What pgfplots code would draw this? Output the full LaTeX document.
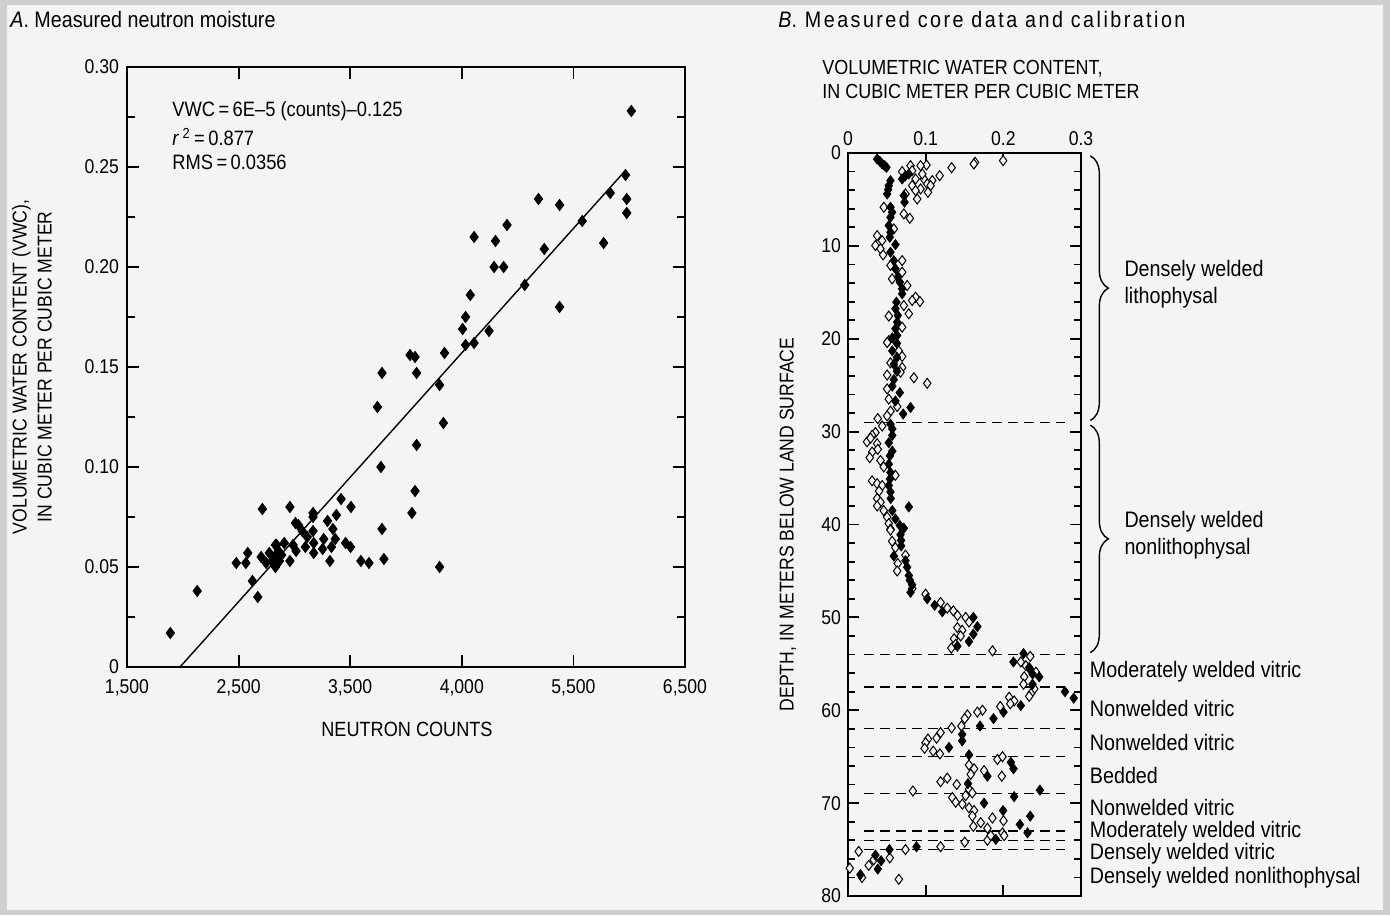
\documentclass[border=0pt]{standalone}
\usepackage{fontspec}
\setmainfont{Liberation Sans}[FakeStretch=0.88]
\newfontfamily\spacedfont{Liberation Sans}[FakeStretch=0.88, LetterSpace=11]
\usepackage{pgfplots}
\usepackage{pgfplotstable}
\pgfplotsset{compat=1.18}
\usetikzlibrary{decorations.pathreplacing}
\definecolor{bg}{HTML}{F3F5F4}
\definecolor{edge}{HTML}{CDD0CD}

\pgfplotstableread{
counts vwc
6019 0.278
5967 0.246
5830 0.237
5978 0.234
5978 0.227
5187 0.234
5376 0.231
5579 0.223
5771 0.212
5239 0.209
4905 0.221
4610 0.215
4802 0.213
4789 0.200
4875 0.200
5064 0.191
5376 0.180
4576 0.186
4534 0.175
4507 0.169
4744 0.168
4534 0.161
4610 0.162
4345 0.157
4036 0.156
4081 0.155
4095 0.147
3785 0.147
4301 0.141
3744 0.130
4335 0.122
4095 0.111
3775 0.100
4081 0.088
4053 0.077
3785 0.069
3802 0.054
4301 0.050
3668 0.052
3596 0.053
3507 0.080
3418 0.084
3376 0.076
3297 0.073
3345 0.069
3366 0.064
3459 0.062
3503 0.060
3332 0.060
3263 0.064
3253 0.059
3318 0.053
3167 0.077
3167 0.075
3167 0.068
3173 0.062
3173 0.057
3098 0.060
3009 0.072
3036 0.071
3070 0.068
3115 0.065
2960 0.080
2909 0.062
2988 0.061
3015 0.058
2960 0.053
2713 0.079
2830 0.061
2857 0.058
2885 0.056
2830 0.050
2775 0.057
2747 0.052
2702 0.055
2799 0.053
2582 0.057
2565 0.052
2479 0.052
2624 0.043
2672 0.035
2129 0.038
1888 0.017
2841 0.061
2820 0.055
2866 0.053
}\dataA

\pgfplotstableread{
vwc depth
0.0375 0.65
0.041 0.9
0.044 1.18
0.047 1.36
0.0495 1.54
0.0547 2.97
0.0525 3.51
0.0517 3.94
0.0504 4.41
0.0697 2.8
0.074 2.44
0.0783 2.26
0.0719 4.59
0.0728 5.3
0.0547 5.84
0.0568 6.38
0.0547 6.92
0.0525 7.81
0.0547 8.53
0.0538 9.07
0.0611 9.86
0.0547 10.68
0.059 11.58
0.0611 12.47
0.0641 13.37
0.0667 13.9
0.0697 14.62
0.0697 15.16
0.0624 16.06
0.0611 16.77
0.0641 17.49
0.0633 18.21
0.0611 18.92
0.0633 19.64
0.057 19.9
0.063 20.5
0.057 21.3
0.063 22.0
0.059 22.75
0.063 23.5
0.059 24.4
0.057 25.1
0.0667 25.8
0.061 26.7
0.0805 27.4
0.071 28.1
0.0547 29.2
0.057 29.7
0.057 30.4
0.0525 31.2
0.057 32.1
0.054 32.6
0.0525 33.5
0.0547 34.4
0.054 35.1
0.0525 35.8
0.0547 36.5
0.055 37.2
0.0783 38.1
0.057 38.5
0.061 39.4
0.0667 40.1
0.0719 40.4
0.0676 41.1
0.0684 41.7
0.0684 42.3
0.059 43.4
0.074 43.9
0.0762 44.6
0.0783 45.5
0.0796 46.0
0.0826 46.5
0.0805 47.3
0.102 48.0
0.1115 48.7
0.1214 49.4
0.1614 50.0
0.1666 51.0
0.1614 51.8
0.1558 52.6
0.1408 53.1
0.226 53.9
0.213 54.8
0.2333 55.4
0.2376 56.1
0.2462 56.4
0.2376 57.2
0.2794 58.0
0.2906 58.7
0.2225 59.5
0.2002 60.2
0.1873 60.9
0.17 61.7
0.147 62.6
0.147 63.3
0.13 64.0
0.1558 64.8
0.2096 65.6
0.2131 66.3
0.1795 67.1
0.1545 67.9
0.2471 68.6
0.2139 69.3
0.1752 70.0
0.1997 70.8
0.2346 71.4
0.2213 72.3
0.2312 73.2
0.1903 73.9
0.0882 74.7
0.0534 75.0
0.0353 75.6
0.0426 76.2
0.0383 77.1
0.016 77.7
}\filledB

\pgfplotstableread{
vwc depth
0.1997 0.82
0.1636 1.0
0.162 1.18
0.1334 1.58
0.118 2.44
0.101 1.29
0.0934 1.36
0.0805 1.36
0.0697 2.0
0.0826 1.9
0.0977 2.8
0.087 2.8
0.0956 2.26
0.1085 2.97
0.102 3.33
0.1063 3.51
0.0934 3.87
0.0826 3.51
0.087 4.05
0.1029 4.23
0.0891 4.95
0.074 4.41
0.0719 6.56
0.0796 7.03
0.0461 5.84
0.059 8.17
0.0375 8.89
0.0353 9.96
0.0439 9.43
0.0418 10.32
0.0452 10.97
0.0697 11.58
0.0697 12.83
0.0762 14.27
0.087 15.52
0.0926 15.99
0.0826 15.88
0.0719 16.42
0.0783 17.31
0.0525 17.56
0.0697 18.75
0.0525 20.2
0.0568 13.55
0.0547 12.1
0.0504 20.4
0.0654 21.3
0.0697 21.9
0.0547 22.6
0.0697 23.1
0.0676 23.6
0.0504 23.9
0.0848 24.2
0.102 24.8
0.0504 25.4
0.0525 26.5
0.0633 27.3
0.0547 27.8
0.0504 28.3
0.0383 28.6
0.044 29.4
0.0353 30.1
0.031 30.4
0.0245 31.1
0.029 30.7
0.0375 31.3
0.0383 31.9
0.031 32.2
0.028 32.8
0.0418 33.1
0.046 33.8
0.061 34.7
0.031 35.3
0.0375 35.6
0.044 35.8
0.04 36.4
0.0375 37.2
0.0418 37.6
0.0375 38.0
0.046 38.5
0.0504 39.2
0.0525 39.9
0.0547 40.5
0.0547 40.6
0.0568 41.8
0.061 42.5
0.074 43.3
0.0641 44.2
0.0633 45.0
0.0826 46.9
0.0999 47.5
0.1192 48.4
0.1278 49.0
0.1356 49.3
0.141 49.8
0.1515 50.0
0.1558 50.5
0.1408 51.1
0.147 51.4
0.1451 52.0
0.1365 52.3
0.1386 52.9
0.133 53.3
0.186 53.6
0.2346 54.2
0.2225 54.8
0.229 55.2
0.2355 55.7
0.2419 55.9
0.2269 56.4
0.226 57.2
0.2398 57.7
0.2355 58.2
0.2333 58.5
0.2075 58.6
0.214 59.0
0.2089 59.3
0.196 59.6
0.1731 60.0
0.1666 60.2
0.1537 60.5
0.1503 60.9
0.146 61.7
0.1334 61.9
0.1192 62.4
0.114 63.0
0.1029 63.1
0.0999 63.5
0.0986 64.1
0.1097 64.4
0.1183 64.7
0.1924 65.3
0.1989 65.0
0.1558 65.9
0.1623 66.3
0.158 66.9
0.1752 66.5
0.1980 67.1
0.1192 67.7
0.1278 67.3
0.14 68.0
0.1558 68.5
0.1601 68.9
0.1515 69.2
0.0835 68.7
0.1343 69.4
0.1386 69.9
0.1472 70.1
0.1558 70.5
0.1623 70.8
0.1601 71.4
0.1709 72.1
0.1614 72.5
0.1859 71.6
0.2002 71.9
0.1795 72.7
0.1795 74.0
0.1838 73.5
0.1989 73.2
0.2010 73.5
0.1503 74.2
0.1192 74.7
0.074 75.0
0.0538 75.9
0.0331 76.1
0.0267 76.7
0.0138 75.2
0.0022 77.0
0.018 78.0
0.0654 78.2
}\openB

\begin{document}
\begin{tikzpicture}[font=\fontsize{10}{12}\selectfont]
\fill[edge] (0pt,0pt) rectangle (695pt,457.5pt);
\fill[bg] (3.5pt,2.5pt) rectangle (691.5pt,455pt);

% ---------- Panel A ----------
\begin{axis}[at={(63.5pt,124pt)}, anchor=south west, scale only axis,
  width=279pt, height=300pt,
  xmin=1500, xmax=6500, ymin=0, ymax=0.3,
  xtick={1500,2500,3500,4500,5500,6500},
  xticklabels={{1,500},{2,500},{3,500},{4,000},{5,500},{6,500}},
  ytick={0,0.05,0.1,0.15,0.2,0.25,0.3},
  yticklabels={0,0.05,0.10,0.15,0.20,0.25,0.30},
  minor ytick={0.025,0.075,0.125,0.175,0.225,0.275},
  tick align=inside, major tick length=6pt, minor tick length=4pt,
  axis line style={line width=1.1pt},
  every tick/.style={black, line width=0.9pt},
  every tick label/.append style={font=\fontsize{10}{12}\selectfont},
  xticklabel style={yshift=-2.5pt},
  yticklabel style={xshift=-0.5pt},
  axis background/.style={fill=bg},
]
\addplot[black, line width=0.7pt] coordinates {(1975,0) (5970,0.2485)};
\addplot[only marks, mark=diamond*, mark size=2.8pt, black] table[x=counts,y=vwc] {\dataA};
\end{axis}

\begin{scope}[every node/.style={inner sep=0pt}]
\node[anchor=west] at (5pt,447.5pt) {\fontsize{11.2}{13}\selectfont\textit{A}. Measured neutron moisture};
\node[anchor=west] at (86pt,402pt) {\fontsize{10.4}{12}\selectfont VWC\,=\,6E--5 (counts)--0.125};
\node[anchor=west] at (86pt,389pt) {\fontsize{10.4}{12}\selectfont\textit{r}\,\textsuperscript{2}\,=\,0.877};
\node[anchor=west] at (86pt,376.5pt) {\fontsize{10.4}{12}\selectfont RMS\,=\,0.0356};
\node at (203.5pt,93pt) {\fontsize{10.3}{12}\selectfont NEUTRON COUNTS};
\node[rotate=90, align=center, font=\fontsize{10}{12.5}\selectfont] at (16pt,274pt) {VOLUMETRIC WATER CONTENT (VWC),\\IN CUBIC METER PER CUBIC METER};
\end{scope}

% ---------- Panel B ----------
\begin{axis}[at={(424pt,9.5pt)}, anchor=south west, scale only axis,
  width=116.5pt, height=371.5pt,
  xmin=0, xmax=0.3, ymin=0, ymax=80, y dir=reverse,
  xtick={0,0.1,0.2,0.3}, xticklabels={0,0.1,0.2,0.3},
  xticklabel pos=right,
  ytick={0,10,20,30,40,50,60,70,80},
  yticklabels={0,10,20,30,40,50,60,70,80},
  minor ytick={2,4,6,8,12,14,16,18,22,24,26,28,32,34,36,38,42,44,46,48,52,54,56,58,62,64,66,68,72,74,76,78},
  tick align=inside, major tick length=5.5pt, minor tick length=3.5pt,
  axis line style={line width=1.1pt},
  every tick/.style={black, line width=0.9pt},
  every tick label/.append style={font=\fontsize{10}{12}\selectfont},
  axis background/.style={fill=bg},
  clip=false,
]
\foreach \d in {29,54,57.5,62,65,69,73,74,75}{
  \edef\temp{\noexpand\draw[black, line width=0.6pt, dash pattern=on 5pt off 3pt] (axis cs:0.02,\d) -- (axis cs:0.28,\d);}
  \temp
}
\addplot[only marks, mark=diamond*, mark size=2.5pt, mark options={fill=bg, draw=black, line width=0.5pt}] table[x=vwc,y=depth] {\openB};
\addplot[only marks, mark=diamond*, mark size=2.5pt, black] table[x=vwc,y=depth] {\filledB};

\draw[decorate, decoration={brace, amplitude=9pt}, line width=0.7pt] (axis cs:0.312,0.3) -- (axis cs:0.312,28.8);
\draw[decorate, decoration={brace, amplitude=9pt}, line width=0.7pt] (axis cs:0.312,29.3) -- (axis cs:0.312,53.8);
\begin{scope}[every node/.style={inner sep=0pt, font=\fontsize{11.2}{13.5}\selectfont}]
\node[anchor=west, align=left] at (axis cs:0.3555,14.1) {Densely welded\\lithophysal};
\node[anchor=west, align=left] at (axis cs:0.3555,41.1) {Densely welded\\nonlithophysal};
\node[anchor=west] at (axis cs:0.311,55.9) {Moderately welded vitric};
\node[anchor=west] at (axis cs:0.311,59.8) {Nonwelded vitric};
\node[anchor=west] at (axis cs:0.311,63.5) {Nonwelded vitric};
\node[anchor=west] at (axis cs:0.311,67.0) {Bedded};
\node[anchor=west] at (axis cs:0.311,70.5) {Nonwelded vitric};
\node[anchor=west] at (axis cs:0.311,73.1) {Moderately welded vitric};
\node[anchor=west] at (axis cs:0.311,75.4) {Densely welded vitric};
\node[anchor=west] at (axis cs:0.311,78.0) {Densely welded nonlithophysal};
\end{scope}
\end{axis}

\begin{scope}[every node/.style={inner sep=0pt}]
\node[anchor=west] at (389pt,447.5pt) {\fontsize{11.2}{13}\spacedfont\textit{B}. Measured core data and calibration};
\node[anchor=west, align=left, font=\fontsize{10.2}{12}\selectfont] at (411pt,418pt) {VOLUMETRIC WATER CONTENT,\\IN CUBIC METER PER CUBIC METER};
\node[rotate=90] at (394pt,195.25pt) {DEPTH, IN METERS BELOW LAND SURFACE};
\end{scope}
\end{tikzpicture}
\end{document}
